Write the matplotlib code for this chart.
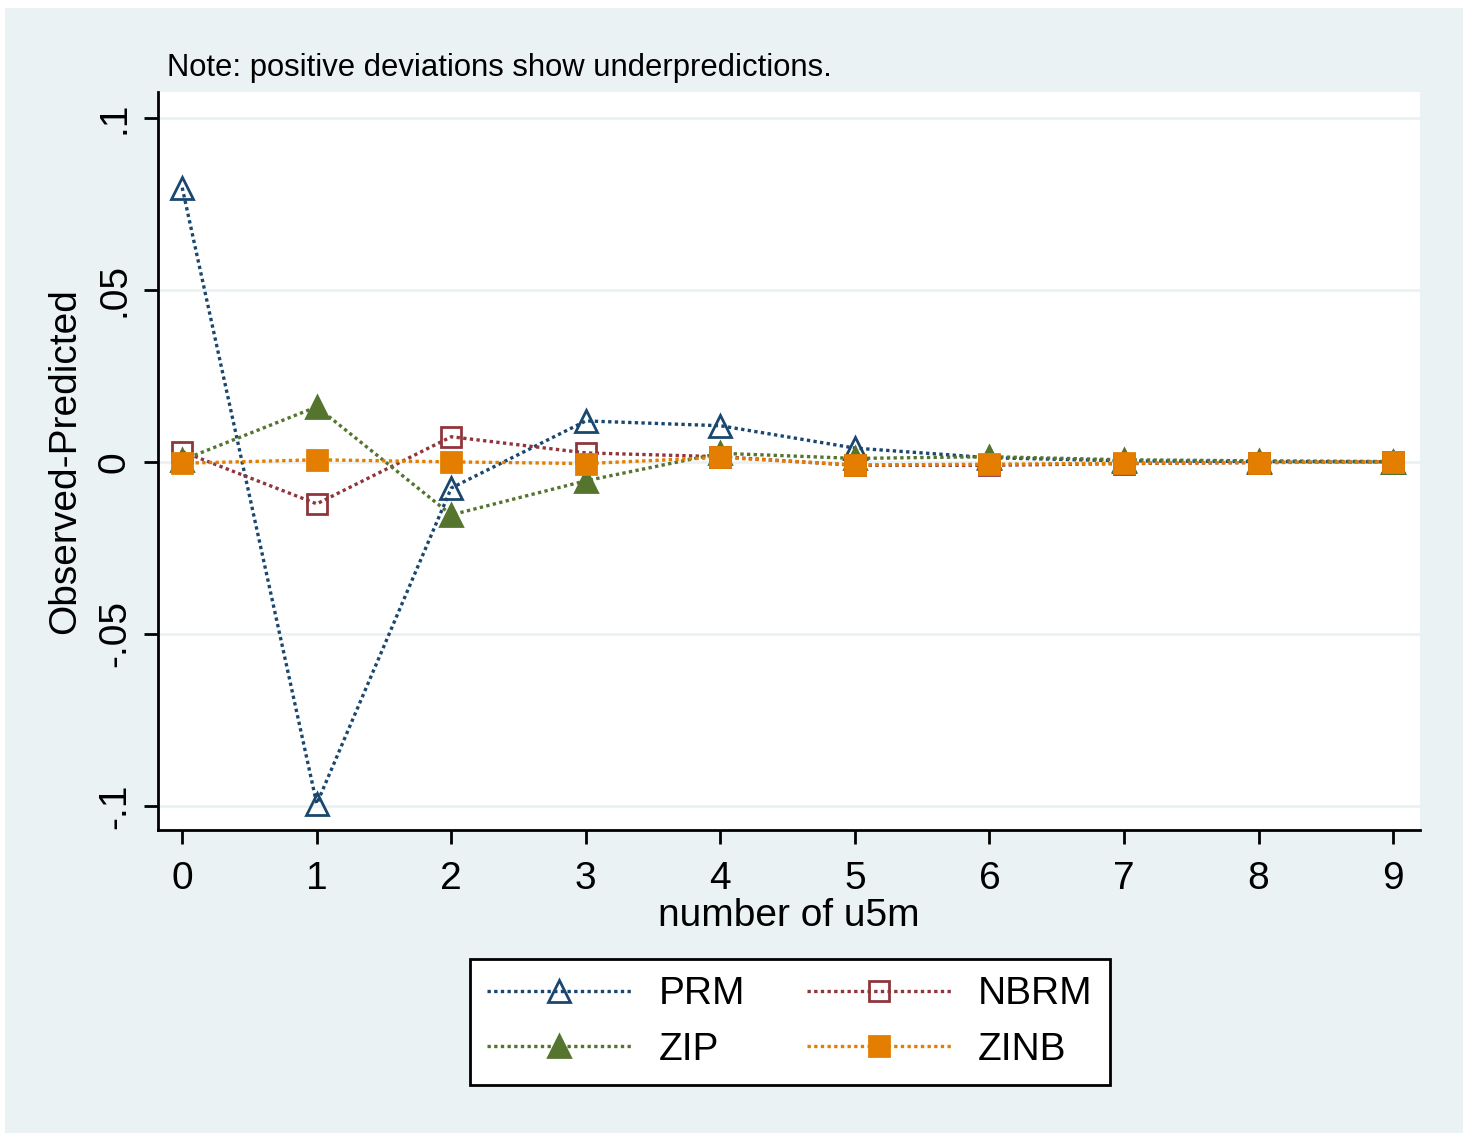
import matplotlib.pyplot as plt
from matplotlib.patches import Rectangle

plt.rcParams['font.family'] = ['Liberation Sans', 'DejaVu Sans']

counts = [0, 1, 2, 3, 4, 5, 6, 7, 8, 9]
prm = [0.0797, -0.0994, -0.0076, 0.0119, 0.0105, 0.0040, 0.0012, 0.0003, 0.0001, 0.0]
nbrm = [0.0030, -0.0122, 0.0073, 0.0026, 0.0015, -0.0010, -0.0010, -0.0005, -0.0002, 0.0]
zip_ = [0.0005, 0.0160, -0.0154, -0.0055, 0.0025, 0.0010, 0.0015, 0.0006, 0.0003, 0.0001]
zinb = [-0.0004, 0.0006, 0.0000, -0.0005, 0.0013, -0.0009, -0.0007, -0.0004, -0.0002, 0.0]
yticks = [-0.1, -0.05, 0, 0.05, 0.1]
ytick_labels = ['-.1', '-.05', '0', '.05', '.1']

W, H = 1470, 1137
bg = '#eaf2f3'
fig = plt.figure(figsize=(W / 100, H / 100), dpi=100)
fig.patch.set_facecolor('white')
fig.patches.append(Rectangle((5 / W, 4 / H), 1 - 12 / W, 1 - 12 / H,
                             transform=fig.transFigure, facecolor=bg,
                             edgecolor='none', zorder=-10))

ax = fig.add_axes([158 / W, 1 - 830 / H, (1420 - 158) / W, (830 - 92) / H])
ax.set_facecolor('white')

series = [
    (prm, 'PRM', '#1a476f', '^', 'none'),
    (nbrm, 'NBRM', '#90353b', 's', 'none'),
    (zip_, 'ZIP', '#55752f', '^', '#55752f'),
    (zinb, 'ZINB', '#e37e00', 's', '#e37e00'),
]
handles = {}
for vals, name, col, mk, fc in series:
    h, = ax.plot(counts, vals, linestyle=(0, (1, 1)), linewidth=2.4, color=col,
                 marker=mk, markersize=16 if mk == '^' else 14,
                 markerfacecolor=fc, markeredgecolor=col, markeredgewidth=2,
                 label=name)
    handles[name] = h

ax.set_xlim(-0.18, 9.2)
ax.set_ylim(-0.107, 0.1075)
ax.set_yticks(yticks)
ax.set_yticklabels(ytick_labels, rotation=90, va='center')
ax.set_xticks(counts)
ax.grid(axis='y', color='#eaf2f3', linewidth=2)
ax.set_axisbelow(True)
for s in ['top', 'right']:
    ax.spines[s].set_visible(False)
for s in ['left', 'bottom']:
    ax.spines[s].set_linewidth(2)
ax.tick_params(axis='both', labelsize=28, width=2, length=10)
ax.tick_params(axis='x', pad=12)
ax.tick_params(axis='y', pad=8)

ax.set_xlabel('number of u5m', fontsize=28, labelpad=1)
ax.set_ylabel('Observed-Predicted', fontsize=28, labelpad=10)
fig.text(167 / W, 1 - 68 / H, 'Note: positive deviations show underpredictions.',
         fontsize=22.3, va='center', ha='left')

order = ['PRM', 'ZIP', 'NBRM', 'ZINB']
leg = fig.legend([handles[n] for n in order], order, ncol=2,
                 loc='center', bbox_to_anchor=(790 / W, 1 - 1022 / H),
                 fontsize=28, frameon=True, fancybox=False, framealpha=1,
                 handlelength=3.7, columnspacing=1.6, handletextpad=0.7,
                 labelspacing=0.5, borderpad=0.45, markerscale=1.0)
leg.get_frame().set_edgecolor('black')
leg.get_frame().set_linewidth(2)
leg.get_frame().set_facecolor('white')

fig.savefig('out.png', dpi=100, facecolor=fig.get_facecolor())
